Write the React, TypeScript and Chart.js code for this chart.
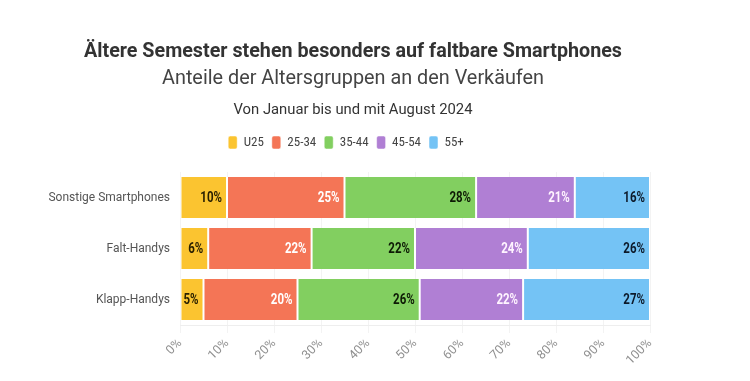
import React, { useEffect, useRef } from 'react';
import { Chart, registerables } from 'chart.js';

Chart.register(...registerables);

const categories = ['Sonstige Smartphones', 'Falt-Handys', 'Klapp-Handys'];
const seriesNames = ['U25', '25-34', '35-44', '45-54', '55+'];
const valuesU25 = [10, 6, 5];
const values25to34 = [25, 22, 20];
const values35to44 = [28, 22, 26];
const values45to54 = [21, 24, 22];
const values55plus = [16, 26, 27];
const seriesColors = ['#FBC430', '#F47556', '#82CF60', '#B07FD4', '#74C3F5'];
const labelColors = ['#2a2000', '#ffffff', '#0d1a05', '#fff4ff', '#0d1a2a'];
const xTickValues = [0, 10, 20, 30, 40, 50, 60, 70, 80, 90, 100];

const titleText = 'Ältere Semester stehen besonders auf faltbare Smartphones';
const subtitleText = 'Anteile der Altersgruppen an den Verkäufen';
const noteText = 'Von Januar bis und mit August 2024';

const NARROW = "'Roboto Condensed', 'Liberation Sans Narrow', Roboto, sans-serif";
const ROBOTO = "Roboto, 'Noto Sans', sans-serif";

const headingPlugin = {
  id: 'headings',
  beforeInit(chart: any) {
    const lg = chart.legend;
    if (lg && !lg.__patched) {
      const orig = lg.fit;
      lg.fit = function () {
        orig.call(this);
        this.height += 13;
      };
      lg.__patched = true;
    }
  },
  beforeDraw(chart: any) {
    const ctx = chart.ctx;
    ctx.save();
    ctx.fillStyle = '#ffffff';
    ctx.fillRect(0, 0, chart.width, chart.height);
    const lines = [
      { text: titleText, font: `bold 21px ${ROBOTO}`, color: '#333333', y: 52, w: 538 },
      { text: subtitleText, font: `20px ${ROBOTO}`, color: '#444444', y: 79, w: 382 },
      { text: noteText, font: `15px ${ROBOTO}`, color: '#333333', y: 110, w: 239 },
    ];
    ctx.textBaseline = 'middle';
    ctx.textAlign = 'center';
    for (const l of lines) {
      ctx.font = l.font;
      const m = ctx.measureText(l.text).width;
      const sx = l.w / m;
      ctx.save();
      ctx.translate(353, l.y);
      ctx.scale(sx, 1);
      ctx.fillStyle = l.color;
      ctx.fillText(l.text, 0, 0);
      ctx.restore();
    }
    ctx.restore();
  },
};

const valueLabelPlugin = {
  id: 'valueLabels',
  afterDatasetsDraw(chart: any) {
    const ctx = chart.ctx;
    ctx.save();
    ctx.font = `bold 14px ${ROBOTO}`;
    ctx.textBaseline = 'middle';
    ctx.textAlign = 'right';
    chart.data.datasets.forEach((ds: any, di: number) => {
      const meta = chart.getDatasetMeta(di);
      meta.data.forEach((bar: any, i: number) => {
        const v = ds.data[i];
        const text = `${v}%`;
        ctx.save();
        ctx.translate(bar.x - 5, bar.y + 1);
        ctx.scale(0.82, 1);
        ctx.fillStyle = labelColors[di];
        ctx.fillText(text, 0, 0);
        ctx.restore();
      });
    });
    ctx.restore();
  },
};

export default function App() {
  const ref = useRef<HTMLCanvasElement | null>(null);
  useEffect(() => {
    if (!ref.current) return;
    const seriesValues = [valuesU25, values25to34, values35to44, values45to54, values55plus];
    const chart = new Chart(ref.current, {
      type: 'bar',
      data: {
        labels: categories,
        datasets: seriesNames.map((name, i) => ({
          label: name,
          data: seriesValues[i],
          backgroundColor: seriesColors[i],
          borderColor: '#ffffff',
          borderWidth: { left: 1, right: 1, top: 0, bottom: 0 },
          borderSkipped: false,
          barPercentage: 0.8,
          categoryPercentage: 1,
        })),
      },
      options: {
        indexAxis: 'y',
        animation: false,
        responsive: false,
        maintainAspectRatio: false,
        layout: { padding: { top: 128, left: 42, right: 100, bottom: 10 } },
        plugins: {
          title: { display: false },
          tooltip: { enabled: false },
          legend: {
            position: 'top',
            labels: {
              boxWidth: 9,
              boxHeight: 13,
              useBorderRadius: true,
              borderRadius: 2,
              padding: 8,
              color: '#444444',
              font: { family: NARROW, size: 13 },
            },
          },
        },
        scales: {
          x: {
            stacked: true,
            min: 0,
            max: 100,
            afterBuildTicks(axis: any) {
              axis.ticks = xTickValues.map((v) => ({ value: v }));
            },
            ticks: {
              minRotation: 45,
              maxRotation: 45,
              color: '#909090',
              font: { family: ROBOTO, size: 12.5 },
              callback: (v: any) => `${v}%`,
            },
            grid: { color: '#f3f3f3', tickLength: 8 },
            border: { color: '#eeeeee' },
          },
          y: {
            stacked: true,
            afterFit(axis: any) {
              axis.width = 138;
            },
            ticks: {
              color: '#555555',
              padding: 10,
              font: { family: ROBOTO, size: 12 },
            },
            grid: { display: false, drawTicks: false },
            border: { display: false },
          },
        },
      },
      plugins: [headingPlugin, valueLabelPlugin],
    } as any);
    return () => chart.destroy();
  }, []);
  return (
    <div style={{ position: 'absolute', left: 0, top: 0, width: 750, height: 381, background: '#fff' }}>
      <canvas ref={ref} width={750} height={381} />
    </div>
  );
}
